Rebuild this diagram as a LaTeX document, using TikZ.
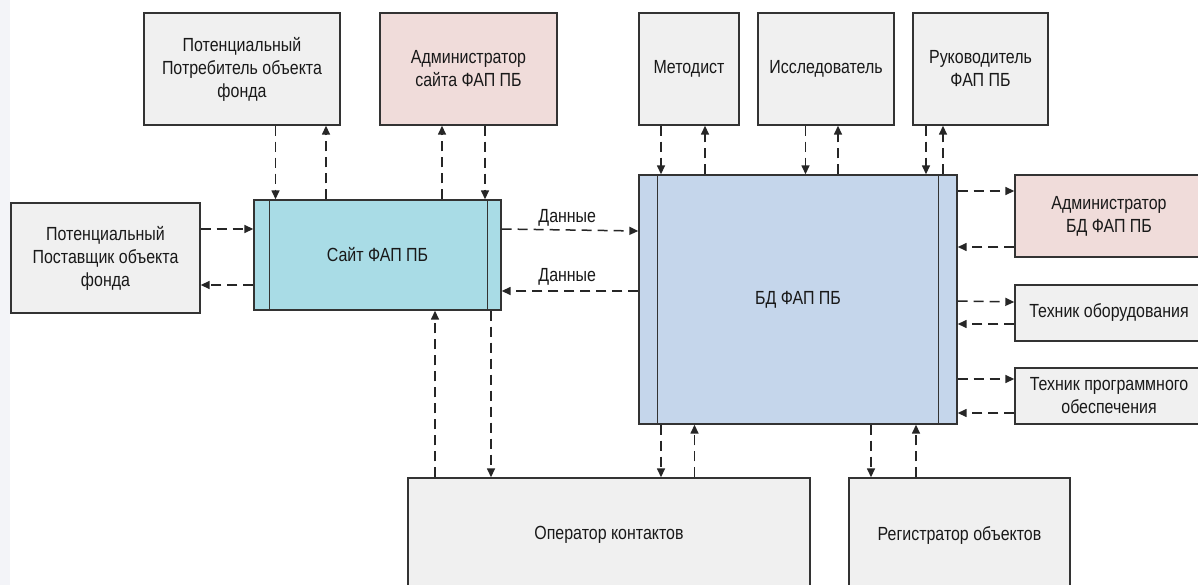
\documentclass[tikz,border=0pt]{standalone}
\usepackage{fontspec}
\setmainfont[FakeStretch=0.84]{Liberation Sans}
\usetikzlibrary{arrows.meta}
\definecolor{boxgray}{HTML}{F0F0F0}
\definecolor{boxpink}{HTML}{F0DCDA}
\definecolor{boxcyan}{HTML}{A9DCE6}
\definecolor{boxblue}{HTML}{C5D6EB}
\definecolor{edge}{HTML}{333333}
\definecolor{strip}{HTML}{F3F4F8}
\begin{document}
\begin{tikzpicture}[x=1pt,y=-1pt,
  every node/.style={font=\fontsize{19}{23}\selectfont, text=black!90},
  actor/.style={draw=edge, line width=1.4pt, fill=boxgray, rectangle, align=center, inner sep=0pt},
  link/.style={draw=black!85, line width=1.5pt, dash pattern=on 10pt off 6pt, -{Triangle[length=9pt,width=8pt]}},
  lbl/.style={inner sep=1pt}
]
\useasboundingbox (0,0) rectangle (1198,585);
\fill[white] (0,0) rectangle (1198,585);
\fill[strip] (0,0) rectangle (10,585);

% top row
\node[actor, minimum width=196pt, minimum height=112pt] (potr) at (242,69) {Потенциальный\\Потребитель объекта\\фонда};
\node[actor, fill=boxpink, minimum width=177pt, minimum height=112pt] (adms) at (468.5,69) {Администратор\\сайта ФАП ПБ};
\node[actor, minimum width=100pt, minimum height=112pt] (met) at (689,69) {Методист};
\node[actor, minimum width=136pt, minimum height=112pt] (iss) at (826,69) {Исследователь};
\node[actor, minimum width=135pt, minimum height=112pt] (ruk) at (980.5,69) {Руководитель\\ФАП ПБ};

% left
\node[actor, minimum width=189pt, minimum height=110pt] (post) at (105.5,258) {Потенциальный\\Поставщик объекта\\фонда};

% site
\node[actor, fill=boxcyan, minimum width=247pt, minimum height=110pt] (site) at (377.5,255) {Сайт ФАП ПБ};
\draw[edge, line width=1.4pt] ([xshift=16pt]site.north west) -- ([xshift=16pt]site.south west);
\draw[edge, line width=1.4pt] ([xshift=-14pt]site.north east) -- ([xshift=-14pt]site.south east);

% database
\node[actor, fill=boxblue, minimum width=318pt, minimum height=249pt] (bd) at (798,299.5) {БД ФАП ПБ};
\draw[edge, line width=1.4pt] ([xshift=19pt]bd.north west) -- ([xshift=19pt]bd.south west);
\draw[edge, line width=1.4pt] ([xshift=-19pt]bd.north east) -- ([xshift=-19pt]bd.south east);

% right
\node[actor, fill=boxpink, minimum width=188pt, minimum height=82pt] (admbd) at (1109,216) {Администратор\\БД ФАП ПБ};
\node[actor, minimum width=188pt, minimum height=56pt] (teh1) at (1109,313) {Техник оборудования};
\node[actor, minimum width=188pt, minimum height=56pt] (teh2) at (1109,396) {Техник программного\\обеспечения};

% bottom
\node[actor, minimum width=402pt, minimum height=114pt] (oper) at (609,535) {Оператор контактов};
\node[actor, minimum width=221pt, minimum height=114pt] (reg) at (959.5,535) {Регистратор объектов};

% connectors: top-left actors <-> site
\draw[link] (potr.south -| 275.5,0) -- (site.north -| 275.5,0);
\draw[link] (site.north -| 326,0) -- (potr.south -| 326,0);
\draw[link] (site.north -| 442,0) -- (adms.south -| 442,0);
\draw[link] (adms.south -| 485,0) -- (site.north -| 485,0);

% post <-> site
\draw[link] (post.east |- 0,229) -- (site.west |- 0,229);
\draw[link] (site.west |- 0,285) -- (post.east |- 0,285);

% site <-> bd
\draw[link] (site.east |- 0,229) -- node[lbl, above=2pt, pos=0.48] (d1) {Данные} (bd.west |- 0,231);
\draw[link] (bd.west |- 0,291) -- node[lbl, above=4pt, pos=0.52] (d2) {Данные} (site.east |- 0,291);

% top actors <-> bd
\draw[link] (met.south -| 661,0) -- (bd.north -| 661,0);
\draw[link] (bd.north -| 705,0) -- (met.south -| 705,0);
\draw[link] (iss.south -| 805.5,0) -- (bd.north -| 805.5,0);
\draw[link] (bd.north -| 838,0) -- (iss.south -| 838,0);
\draw[link] (ruk.south -| 926,0) -- (bd.north -| 926,0);
\draw[link] (bd.north -| 943,0) -- (ruk.south -| 943,0);

% bd <-> right actors
\draw[link] (bd.east |- 0,191) -- (admbd.west |- 0,191);
\draw[link] (admbd.west |- 0,247) -- (bd.east |- 0,247);
\draw[link] (bd.east |- 0,301) -- (teh1.west |- 0,302);
\draw[link] (teh1.west |- 0,324) -- (bd.east |- 0,324);
\draw[link] (bd.east |- 0,379) -- (teh2.west |- 0,379);
\draw[link] (teh2.west |- 0,413) -- (bd.east |- 0,413);

% bd <-> bottom actors
\draw[link] (bd.south -| 661,0) -- (oper.north -| 661,0);
\draw[link] (oper.north -| 694.5,0) -- (bd.south -| 694.5,0);
\draw[link] (bd.south -| 871,0) -- (reg.north -| 871,0);
\draw[link] (reg.north -| 916,0) -- (bd.south -| 916,0);

% site <-> operator
\draw[link] (oper.north -| 435,0) -- (site.south -| 435,0);
\draw[link] (site.south -| 491,0) -- (oper.north -| 491,0);
\end{tikzpicture}
\end{document}
